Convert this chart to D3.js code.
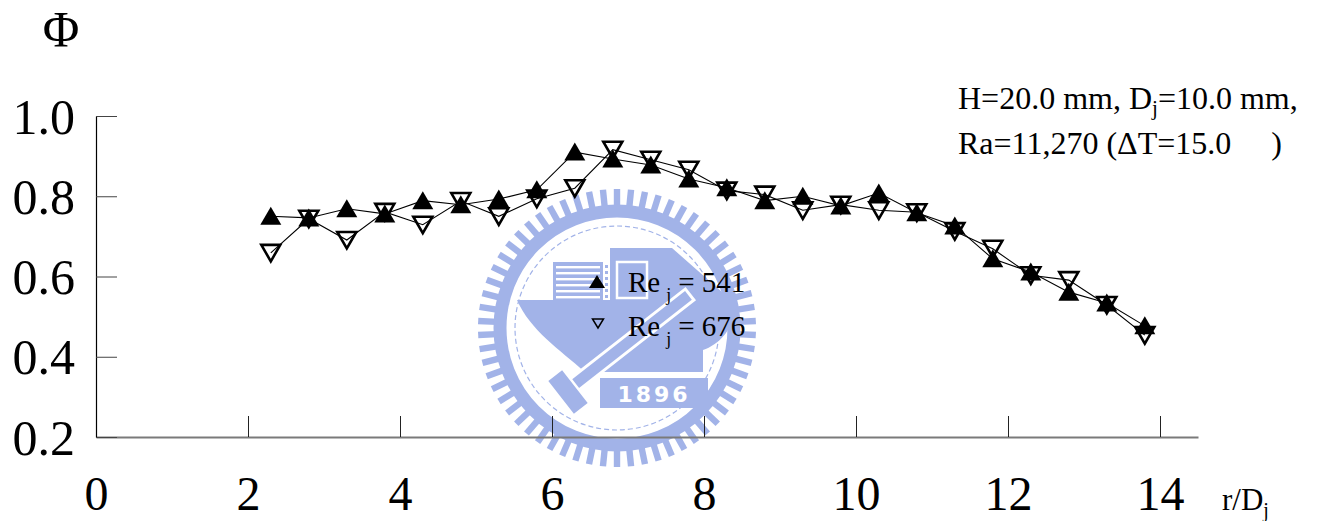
<!DOCTYPE html>
<html>
<head>
<meta charset="utf-8">
<script src="https://cdn.jsdelivr.net/npm/d3@7"></script>
<style>
  html, body { margin: 0; padding: 0; background: #fff; }
  svg { display: block; }
  text { font-family: "Liberation Serif", "Times New Roman", serif; fill: #000; }
</style>
</head>
<body>
<svg id="chart" width="1324" height="521"></svg>
<script>
// Radial position r/Dj of each measurement
const rD = [2.3, 2.8, 3.3, 3.8, 4.3, 4.8, 5.3, 5.8, 6.3, 6.8, 7.3, 7.8,
            8.3, 8.8, 9.3, 9.8, 10.3, 10.8, 11.3, 11.8, 12.3, 12.8, 13.3, 13.8];
// Phi for Re_j = 541
const phi541 = [0.750, 0.746, 0.769, 0.756, 0.789, 0.779, 0.793, 0.816, 0.910, 0.893, 0.878, 0.843,
                0.821, 0.789, 0.800, 0.776, 0.808, 0.759, 0.726, 0.644, 0.611, 0.561, 0.534, 0.477];
// Phi for Re_j = 676
const phi676 = [0.659, 0.744, 0.691, 0.761, 0.729, 0.788, 0.750, 0.794, 0.820, 0.916, 0.891, 0.866,
                0.814, 0.804, 0.765, 0.779, 0.765, 0.760, 0.713, 0.669, 0.603, 0.591, 0.529, 0.454];
const xTicks = [0, 2, 4, 6, 8, 10, 12, 14];
const yTicks = [0.2, 0.4, 0.6, 0.8, 1.0];
const seriesNames = ["541", "676"];

const svg = d3.select("#chart");
const x = d3.scaleLinear().domain([0, 14.5]).range([96, 1198]);
const y = d3.scaleLinear().domain([0.2, 1.0]).range([437, 116]);

// ---- university seal in the background ----
const seal = svg.append("g").attr("class", "seal");
const sc = "#a2b3e8";
const cx = 617, cy = 328;
const nTeeth = 62;
seal.selectAll("rect.tooth").data(d3.range(nTeeth)).join("rect")
  .attr("class", "tooth")
  .attr("x", -3.2).attr("y", -139).attr("width", 6.4).attr("height", 19)
  .attr("fill", sc)
  .attr("transform", i => `translate(${cx},${cy}) rotate(${i * 360 / nTeeth})`);
seal.append("circle").attr("cx", cx).attr("cy", cy).attr("r", 117)
  .attr("fill", "none").attr("stroke", sc).attr("stroke-width", 13);
seal.append("circle").attr("cx", cx).attr("cy", cy).attr("r", 102)
  .attr("fill", "none").attr("stroke", sc).attr("stroke-width", 1.2)
  .attr("stroke-dasharray", "5 3");
// bowl
seal.append("path").attr("fill", sc)
  .attr("d", `M517,300 L737,300 C735,330 718,345 703,350 L703,372 L585,372
              C560,350 530,330 517,300 Z`);
// buildings
seal.append("rect").attr("x", 553).attr("y", 262).attr("width", 50).attr("height", 40).attr("fill", sc);
seal.selectAll("rect.stripe").data(d3.range(6)).join("rect")
  .attr("class", "stripe")
  .attr("x", 556).attr("y", i => 266 + i * 6).attr("width", 44).attr("height", 2.4)
  .attr("fill", "#fff");
seal.selectAll("rect.dot").data(d3.range(7)).join("rect")
  .attr("x", 605).attr("y", i => 265 + i * 6).attr("width", 3).attr("height", 3)
  .attr("fill", sc);
seal.append("rect").attr("x", 610).attr("y", 248).attr("width", 48).attr("height", 54).attr("fill", sc);
seal.append("rect").attr("x", 617).attr("y", 262).attr("width", 30).attr("height", 36)
  .attr("fill", "none").attr("stroke", "#fff").attr("stroke-width", 2.5);
seal.append("path").attr("fill", sc)
  .attr("d", "M658,248 L672,248 L722,292 L737,300 L658,300 Z");
// diagonal bar
seal.append("rect").attr("x", -82).attr("y", -7).attr("width", 164).attr("height", 14)
  .attr("fill", sc).attr("stroke", "#fff").attr("stroke-width", 3)
  .attr("transform", "translate(625,345) rotate(-38)");
seal.append("rect").attr("x", -10).attr("y", -22).attr("width", 20).attr("height", 44)
  .attr("fill", sc).attr("stroke", "#fff").attr("stroke-width", 2.5)
  .attr("transform", "translate(568,392) rotate(-38)");
// year banner
seal.append("rect").attr("x", 600).attr("y", 378).attr("width", 108).attr("height", 30).attr("fill", sc);
seal.append("text").attr("x", 654).attr("y", 402).attr("text-anchor", "middle")
  .style("font-family", "'DejaVu Sans', sans-serif").style("font-weight", "bold")
  .style("font-size", "22px").style("letter-spacing", "3px").style("fill", "#fff")
  .text("1896");

// ---- axes ----
const xAxis = d3.axisBottom(x).tickValues(xTicks).tickSize(-21).tickSizeOuter(0)
  .tickPadding(39).tickFormat(d3.format("d"));
const gx = svg.append("g").attr("transform", "translate(0,437)").call(xAxis);
gx.select(".domain").attr("stroke", "#7a7a7a").attr("stroke-width", 2.2);
gx.selectAll(".tick line").attr("stroke", "#222").attr("stroke-width", 1);
gx.selectAll(".tick text").style("font-size", "48px").style("font-family", "'Liberation Serif', serif")
  .attr("fill", "#000");

const yAxis = d3.axisLeft(y).tickValues(yTicks).tickSize(-21).tickSizeOuter(0)
  .tickPadding(21).tickFormat(d3.format(".1f"));
const gy = svg.append("g").attr("transform", "translate(96,0)").call(yAxis);
gy.select(".domain").attr("stroke", "#000").attr("stroke-width", 1.2);
gy.selectAll(".tick line").attr("stroke", "#444").attr("stroke-width", 1);
gy.selectAll(".tick text").style("font-size", "50px").style("font-family", "'Liberation Serif', serif")
  .attr("fill", "#000").attr("dy", "0.34em");

// axis titles
svg.append("text").attr("x", 61).attr("y", 46).attr("text-anchor", "middle")
  .style("font-size", "50px").text("Φ");
const xt = svg.append("text").attr("x", 1222).attr("y", 510).style("font-size", "31px");
xt.append("tspan").text("r/D");
xt.append("tspan").attr("dy", 7).style("font-size", "20px").text("j");

// ---- data ----
const triUp = "M0,-9.5 L10.5,8.5 L-10.5,8.5 Z";
const triDown = "M-9.5,-8 L9.5,-8 L0,8.5 Z";
const line = d3.line().x(d => x(d[0])).y(d => y(d[1]));
const s541 = rD.map((r, i) => [r, phi541[i]]);
const s676 = rD.map((r, i) => [r, phi676[i]]);

svg.append("path").datum(s541).attr("d", line)
  .attr("fill", "none").attr("stroke", "#000").attr("stroke-width", 1.1);
svg.selectAll("path.m541").data(s541).join("path").attr("class", "m541")
  .attr("d", triUp).attr("fill", "#000")
  .attr("transform", d => `translate(${x(d[0])},${y(d[1])})`);

svg.append("path").datum(s676).attr("d", line)
  .attr("fill", "none").attr("stroke", "#000").attr("stroke-width", 1.1);
svg.selectAll("path.m676").data(s676).join("path").attr("class", "m676")
  .attr("d", triDown).attr("fill", "none").attr("stroke", "#000").attr("stroke-width", 2.6)
  .attr("transform", d => `translate(${x(d[0])},${y(d[1])})`);

// ---- legend ----
const leg = svg.append("g");
leg.append("path").attr("d", "M0,-7 L8,6 L-8,6 Z").attr("fill", "#000")
  .attr("transform", "translate(597,282)");
leg.append("path").attr("d", "M-5.5,-4 L5.5,-4 L0,5 Z").attr("fill", "none")
  .attr("stroke", "#000").attr("stroke-width", 1.5)
  .attr("transform", "translate(598,323)");
[[seriesNames[0], 292], [seriesNames[1], 336]].forEach(([name, by]) => {
  const t = leg.append("text").attr("x", 628).attr("y", by).style("font-size", "29px");
  t.append("tspan").text("Re");
  t.append("tspan").attr("dx", 6).attr("dy", 9).style("font-size", "18px").text("j");
  t.append("tspan").attr("dx", 7).attr("dy", -9).text("= " + name);
});

// ---- conditions note ----
const n1 = svg.append("text").attr("x", 958).attr("y", 109).style("font-size", "32px");
n1.append("tspan").text("H=20.0 mm, D");
n1.append("tspan").attr("dy", 6).style("font-size", "21px").text("j");
n1.append("tspan").attr("dy", -6).text("=10.0 mm,");
svg.append("text").attr("x", 958).attr("y", 154).style("font-size", "32px")
  .style("white-space", "pre")
  .text("Ra=11,270 (ΔT=15.0     )");
</script>
</body>
</html>
